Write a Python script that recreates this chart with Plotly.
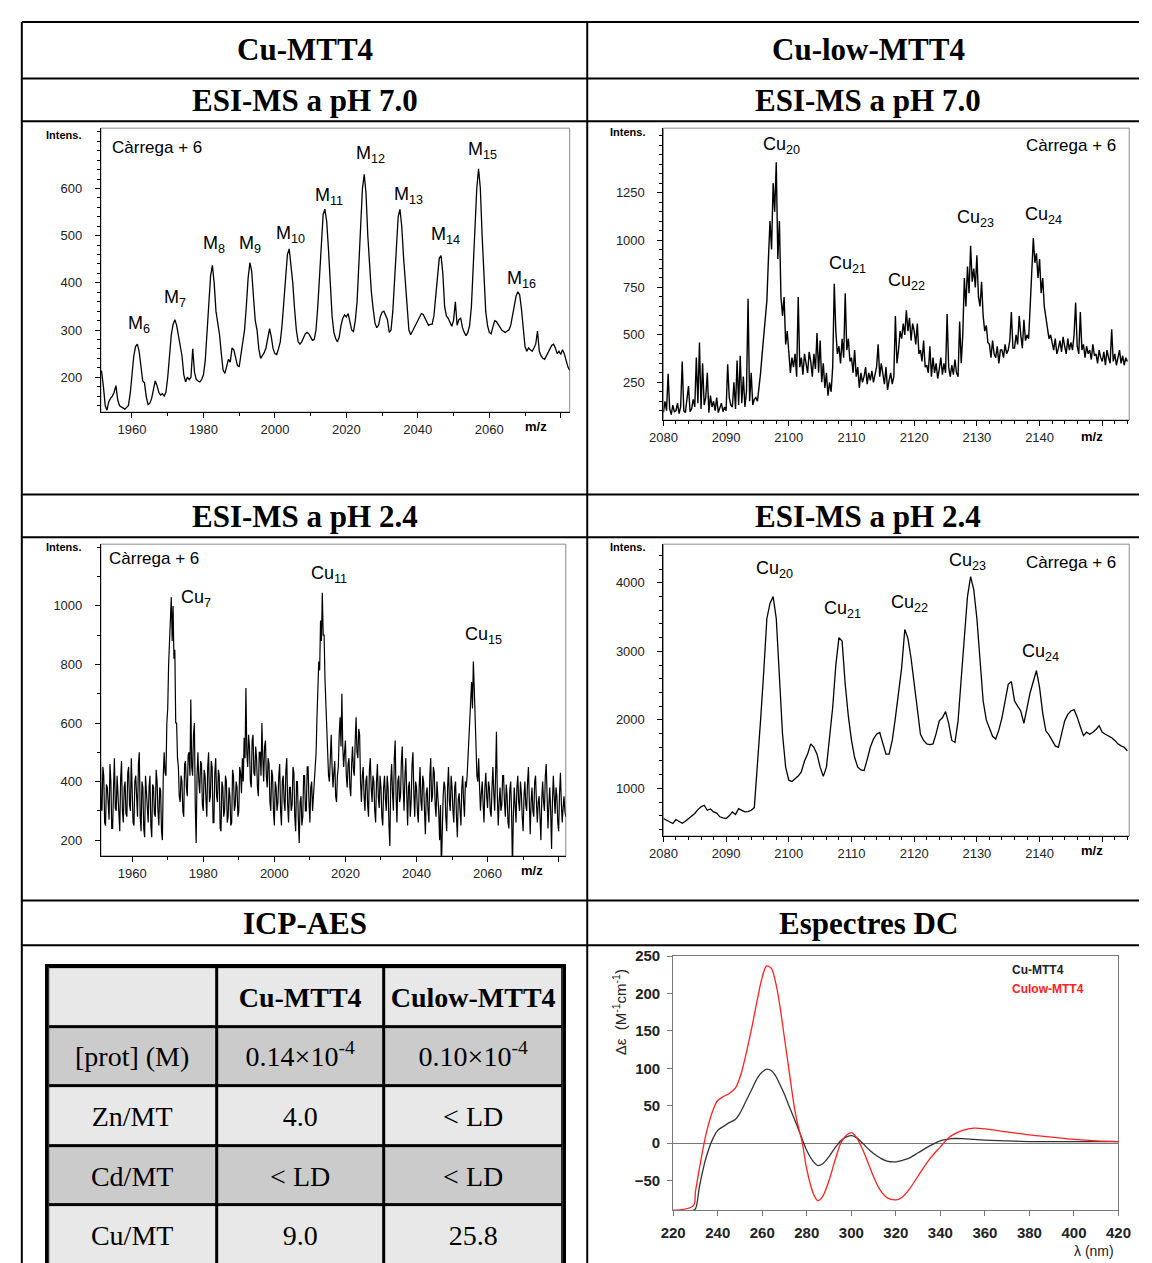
import plotly.graph_objects as go

W, H = 1152, 1263
def PX(x):
    return x / W
def PY(y):
    return 1 - y / H

SANS = "Liberation Sans"
SERIF = "Liberation Serif"

# ---------------- DATA ----------------
# Panel A: Cu-MTT4, ESI-MS pH 7.0 (m/z grid from 1951, step 0.5)
mz_a_start, mz_a_step = 1951.0, 0.5
int_a = [
    215,212,180,140,130,148,155,160,168,182,152,140,137,134,132,136,140,165,205,245,
    265,270,255,225,192,188,158,142,145,155,175,192,182,168,162,165,160,168,200,250,
    290,312,322,310,290,270,245,205,190,200,195,200,260,210,195,192,190,195,205,235,
    290,360,415,437,400,340,315,290,250,215,208,225,238,232,262,258,240,225,222,245,
    270,300,350,410,443,425,370,320,300,260,240,245,252,262,285,303,285,260,250,248,
    260,275,310,360,420,460,472,440,400,345,300,275,270,275,285,292,295,292,285,278,
    280,300,350,420,490,545,556,530,470,390,330,295,282,275,285,310,325,332,328,335,
    318,300,297,320,360,440,530,600,630,590,500,430,380,345,315,305,310,328,338,340,
    330,322,295,300,340,410,480,540,556,520,455,400,340,300,290,298,305,312,320,330,
    335,333,325,315,310,312,312,330,370,420,452,458,420,350,330,325,315,308,320,360,
    310,322,325,305,295,288,295,310,350,430,520,600,642,600,500,400,340,310,295,292,
    305,320,318,312,305,300,297,295,298,300,310,330,355,372,381,375,345,300,265,255,
    262,258,255,262,270,298,255,245,240,238,245,255,262,268,270,262,250,255,248,258,
    250,235,222,215,
]
lab_a = ["M<sub>6</sub>", "M<sub>7</sub>", "M<sub>8</sub>", "M<sub>9</sub>", "M<sub>10</sub>",
         "M<sub>11</sub>", "M<sub>12</sub>", "M<sub>13</sub>", "M<sub>14</sub>", "M<sub>15</sub>",
         "M<sub>16</sub>"]
lab_a_x = [1962.0, 1972.1, 1983.0, 1993.1, 2004.3, 2015.2, 2026.7, 2037.4, 2047.7, 2058.1, 2069.1]
lab_a_y = [312, 366, 482, 482, 503, 583, 672, 585, 501, 680, 408]

# Panel B: Cu-low-MTT4, ESI-MS pH 7.0 (m/z grid from 2080, step 0.25)
mz_b_start, mz_b_step = 2080.0, 0.25
int_b = [
    90,150,100,295,110,80,130,95,100,140,85,120,360,100,90,150,230,95,110,160,
    120,380,140,460,110,350,130,170,300,90,180,120,150,100,170,90,110,140,95,120,
    100,345,170,130,120,250,110,365,130,390,140,280,120,200,690,150,300,130,160,170,
    150,220,300,400,490,580,680,900,1100,950,1300,1150,1410,900,1100,700,600,700,450,520,
    420,300,380,330,400,280,700,330,380,290,400,340,300,410,360,280,400,320,510,300,
    470,250,350,220,300,180,250,200,330,770,520,400,440,350,480,380,720,420,480,360,
    380,300,420,280,330,220,300,250,280,330,240,300,260,310,250,290,330,450,280,350,
    300,240,330,210,260,300,240,280,600,350,420,520,480,560,500,630,520,590,470,560,
    520,450,560,400,420,360,470,330,340,300,440,280,380,300,350,270,320,380,290,350,
    300,610,330,280,340,290,370,300,280,570,350,500,800,650,860,720,970,780,850,750,
    920,700,650,780,600,520,550,460,450,380,470,400,380,440,350,420,420,380,450,400,
    420,470,620,430,430,500,450,600,500,430,580,470,500,480,650,850,1010,880,930,800,
    900,720,800,650,600,540,480,500,450,420,480,400,430,470,410,490,440,400,480,420,
    460,420,500,670,440,400,620,420,450,380,440,400,420,370,450,390,400,350,420,380,
    360,410,340,420,380,350,530,360,400,340,380,420,350,390,340,380,360,
]
lab_b = ["Cu<sub>20</sub>", "Cu<sub>21</sub>", "Cu<sub>22</sub>", "Cu<sub>23</sub>", "Cu<sub>24</sub>"]
lab_b_x = [2098.8, 2109.4, 2118.7, 2129.8, 2140.7]
lab_b_y = [1501, 873, 779, 1114, 1130]

# Panel C: Cu-MTT4, ESI-MS pH 2.4 (m/z grid from 1951, step 0.25)
mz_c_start, mz_c_step = 1951.0, 0.25
int_c = [
    530,310,300,450,420,260,250,390,380,300,270,460,400,240,240,380,480,310,300,420,
    350,250,230,410,470,300,260,380,400,290,280,430,450,320,300,480,380,260,250,400,
    420,300,280,460,500,280,230,400,380,240,210,420,350,300,260,380,420,250,210,390,
    380,290,280,440,400,300,250,380,370,230,200,420,500,430,420,600,650,800,900,980,
    1030,880,1000,820,850,600,600,480,450,350,330,420,400,300,280,460,470,380,350,490,
    500,420,680,450,420,560,600,320,190,420,500,400,360,470,460,320,300,440,420,340,
    280,450,500,330,350,470,450,260,260,430,480,350,330,440,420,240,230,400,380,280,
    300,420,400,260,280,380,350,250,260,440,420,300,320,400,380,280,300,450,430,360,
    480,400,550,480,720,500,450,560,520,400,380,540,560,430,420,520,480,380,350,500,
    500,420,600,480,400,520,540,420,380,480,460,330,300,440,420,300,250,400,380,300,
    330,420,460,300,250,400,420,330,300,440,480,320,260,380,380,300,320,450,430,280,
    230,400,400,270,190,330,350,250,280,420,420,300,300,450,450,330,260,380,400,300,
    350,420,480,500,620,700,810,780,950,880,1045,900,900,750,650,560,520,420,400,500,
    560,450,380,430,470,350,330,420,450,560,620,520,700,520,450,500,540,420,380,460,
    480,380,350,460,520,440,420,540,620,500,480,580,560,400,330,420,450,350,300,400,
    420,320,280,440,480,380,330,420,400,300,260,400,460,350,310,420,380,280,250,380,
    420,340,300,420,380,250,180,400,460,360,300,480,540,350,260,400,420,330,350,470,
    520,380,300,420,480,360,250,380,400,280,330,460,500,360,280,400,380,300,260,380,
    450,330,300,420,400,300,220,360,380,300,260,420,480,330,350,450,430,320,280,400,
    360,300,200,320,100,260,350,400,380,280,230,380,450,330,300,420,380,300,260,380,
    400,280,210,340,360,300,250,380,420,330,280,400,380,420,480,560,620,700,740,650,
    810,720,600,520,420,400,480,380,300,360,400,320,260,380,430,350,310,400,380,300,
    280,380,450,360,300,420,570,350,250,330,380,300,320,420,420,330,280,390,350,260,
    240,370,400,300,100,280,380,320,260,380,420,330,300,400,360,280,230,350,400,320,
    300,400,450,330,220,330,380,300,280,400,420,330,260,330,350,280,200,340,400,330,
    300,420,460,350,240,320,380,300,170,330,420,350,290,380,350,260,230,360,430,330,
    260,310,350,300,280,
]
lab_c = ["Cu<sub>7</sub>", "Cu<sub>11</sub>", "Cu<sub>15</sub>"]
lab_c_x = [1977.9, 2015.5, 2058.9]
lab_c_y = [1027, 1109, 898]

# Panel D: Cu-low-MTT4, ESI-MS pH 2.4 (m/z grid from 2080, step 0.5)
mz_d_start, mz_d_step = 2080.0, 0.5
int_d = [
    560,540,510,488,546,520,490,520,560,590,
    633,690,730,754,681,700,657,640,585,570,
    560,600,657,620,705,680,657,660,680,720,
    1300,2000,2700,3480,3700,3800,3480,2660,1790,1310,
    1120,1100,1140,1180,1240,1400,1500,1650,1600,1500,
    1310,1175,1310,1700,2180,2800,3200,3150,2520,2050,
    1700,1450,1310,1270,1260,1420,1600,1720,1790,1816,
    1650,1500,1500,1700,2030,2400,2760,3320,3190,2900,
    2520,2100,1790,1700,1650,1640,1650,1800,1985,2030,
    2120,1950,1700,1670,1985,2600,3240,3800,4090,3900,
    3480,2800,2275,2000,1890,1760,1720,1850,2030,2250,
    2520,2560,2280,2200,2130,1950,2180,2400,2560,2720,
    2470,2100,1840,1780,1700,1620,1600,1800,1985,2080,
    2130,2150,2040,1900,1770,1820,1790,1820,1860,1915,
    1820,1790,1770,1740,1700,1650,1620,1600,1550,
]
lab_d = ["Cu<sub>20</sub>", "Cu<sub>21</sub>", "Cu<sub>22</sub>", "Cu<sub>23</sub>", "Cu<sub>24</sub>"]
lab_d_x = [2097.7, 2108.5, 2119.2, 2128.5, 2140.2]
lab_d_y = [4188, 3609, 3696, 4319, 2986]

# CD spectra
cd_wl = [220, 229, 230, 232, 235, 238, 240, 243, 245, 248, 250, 252, 255, 258, 260, 262, 264, 266,
         268, 270, 272, 275, 278, 280, 283, 285, 287, 290, 293, 296, 300, 302, 305, 308, 310, 313,
         316, 320, 323, 326, 330, 335, 340, 343, 345, 350, 355, 360, 370, 380, 390, 400, 410, 420]
cd_cu = [-90, -90, -88, -55, -17, 7, 17, 23, 27, 32, 40, 52, 70, 88, 95, 99, 97, 90,
         78, 65, 50, 28, 5, -10, -25, -30, -28, -18, -5, 5, 10, 8, 0, -9, -14, -20,
         -24, -25, -23, -20, -13, -4, 3, 5, 6, 6, 5, 4, 3, 2, 2, 2, 2, 2]
cd_culow = [-90, -84, -65, -30, 15, 45, 57, 63, 66, 74, 88, 110, 150, 195, 222, 237, 234, 215,
            182, 140, 98, 38, 0, -35, -68, -77, -72, -50, -20, 4, 14, 9, -8, -30, -45, -63,
            -73, -76, -72, -62, -44, -22, -5, 5, 10, 17, 20, 19, 15, 11, 8, 5, 3, 2]

# ICP-AES table
tab_cols = ["", "<b>Cu-MTT4</b>", "<b>Culow-MTT4</b>"]
tab_rows = ["[prot] (M)", "Zn/MT", "Cd/MT", "Cu/MT"]
tab_cu = ["0.14×10<sup>-4</sup>", "4.0", "&lt; LD", "9.0"]
tab_culow = ["0.10×10<sup>-4</sup>", "&lt; LD", "&lt; LD", "25.8"]
tab_shade = [0, 1, 0, 1, 0]          # header, prot, Zn, Cd, Cu  (0 light, 1 dark)
tab_col_edges = [0, 173, 344, 527]
tab_row_edges = [0, 60, 120, 180, 240, 300]

# ---------------- FIGURE ----------------
fig = go.Figure()

def grid(start, step, vals):
    return [start + step * i for i in range(len(vals))]

fig.add_trace(go.Scatter(x=grid(mz_a_start, mz_a_step, int_a), y=int_a, mode="lines",
                         line=dict(color="black", width=1.3), xaxis="x", yaxis="y",
                         showlegend=False, hoverinfo="skip"))
fig.add_trace(go.Scatter(x=grid(mz_b_start, mz_b_step, int_b), y=int_b, mode="lines",
                         line=dict(color="black", width=1.4), xaxis="x2", yaxis="y2",
                         showlegend=False, hoverinfo="skip"))
fig.add_trace(go.Scatter(x=grid(mz_c_start, mz_c_step, int_c), y=int_c, mode="lines",
                         line=dict(color="black", width=1.2), xaxis="x3", yaxis="y3",
                         showlegend=False, hoverinfo="skip"))
fig.add_trace(go.Scatter(x=grid(mz_d_start, mz_d_step, int_d), y=int_d, mode="lines",
                         line=dict(color="black", width=1.3), xaxis="x4", yaxis="y4",
                         showlegend=False, hoverinfo="skip"))
fig.add_trace(go.Scatter(x=cd_wl, y=cd_cu, mode="lines", line=dict(color="#333333", width=1.3, shape="spline"),
                         xaxis="x5", yaxis="y5", name="Cu-MTT4", showlegend=False, hoverinfo="skip"))
fig.add_trace(go.Scatter(x=cd_wl, y=cd_culow, mode="lines", line=dict(color="#ff2020", width=1.3, shape="spline"),
                         xaxis="x5", yaxis="y5", name="Culow-MTT4", showlegend=False, hoverinfo="skip"))

# table as a shaded grid of cells with their texts
tab_text = [tab_cols] + [[r, a, b] for r, a, b in zip(tab_rows, tab_cu, tab_culow)]
tab_z = [[s] * 3 for s in tab_shade]
fig.add_trace(go.Heatmap(x=tab_col_edges, y=tab_row_edges, z=tab_z, text=tab_text,
                         texttemplate="%{text}", zmin=0, zmax=1,
                         colorscale=[[0, "#e8e8e8"], [1, "#cbcbcb"]], showscale=False,
                         xgap=3, ygap=3, xaxis="x6", yaxis="y6", hoverinfo="skip",
                         textfont=dict(family=SERIF, size=28, color="black")))

tickfont = dict(family=SANS, size=13, color="#222")

def ms_x(dom, rng, major, labels, minor_dtick, minor0):
    return dict(domain=[PX(dom[0]), PX(dom[1])], range=rng, showline=True, linecolor="black",
                linewidth=1, ticks="outside", ticklen=5, tickcolor="black", tickvals=major,
                ticktext=labels, minor=dict(dtick=minor_dtick, tick0=minor0, ticks="outside",
                ticklen=3, tickcolor="black"), showgrid=False, zeroline=False, tickfont=tickfont,
                fixedrange=True)

def ms_y(dom, rng, major, minor_dtick):
    return dict(domain=[PY(dom[1]), PY(dom[0])], range=rng, showline=True, linecolor="black",
                linewidth=1, ticks="outside", ticklen=5, tickcolor="black", tickvals=major,
                minor=dict(dtick=minor_dtick, tick0=0, ticks="outside", ticklen=3, tickcolor="black"),
                showgrid=False, zeroline=False, tickfont=tickfont, ticklabelstandoff=10,
                fixedrange=True)

xa_major = [1960, 1980, 2000, 2020, 2040, 2060, 2080]
xa_text = ["1960", "1980", "2000", "2020", "2040", "2060", " "]
xb_major = [2080, 2090, 2100, 2110, 2120, 2130, 2140, 2150]
xb_text = ["2080", "2090", "2100", "2110", "2120", "2130", "2140", " "]

layout = dict(
    width=W, height=H, margin=dict(l=0, r=0, t=0, b=0, pad=0),
    paper_bgcolor="white", plot_bgcolor="white",
    xaxis=dict(**ms_x((89, 569), [1951.3, 2082.5], xa_major, xa_text, 10, 1950), anchor="y"),
    yaxis=dict(**ms_y((120, 406), [126, 728], [200, 300, 400, 500, 600], 20), anchor="x"),
    xaxis2=dict(**ms_x((665, 1142), [2080, 2154.3], xb_major, xb_text, 2, 2080), anchor="y2"),
    yaxis2=dict(**ms_y((120, 414), [51, 1590], [250, 500, 750, 1000, 1250], 50), anchor="x2"),
    xaxis3=dict(**ms_x((89, 565), [1951.2, 2082], xa_major, xa_text, 10, 1950), anchor="y3"),
    yaxis3=dict(**ms_y((539, 853), [146, 1211], [200, 400, 600, 800, 1000], 100), anchor="x3"),
    xaxis4=dict(**ms_x((665, 1142), [2080, 2154.3], xb_major, xb_text, 2, 2080), anchor="y4"),
    yaxis4=dict(**ms_y((539, 833), [304, 4565], [1000, 2000, 3000, 4000], 200), anchor="x4"),
    xaxis5=dict(domain=[PX(675), PX(1131)], range=[220, 420], anchor="y5", showline=True,
                linecolor="#777", linewidth=1, mirror=True, ticks="outside", ticklen=5,
                tickcolor="#777", dtick=20, tick0=220, showgrid=False, zeroline=False,
                tickfont=dict(family=SANS, size=15, color="#222", weight="bold"),
                ticklabelstandoff=4, fixedrange=True),
    yaxis5=dict(domain=[PY(1210), PY(954)], range=[-90, 250], anchor="x5", showline=True,
                linecolor="#777", linewidth=1, mirror=True, ticks="outside", ticklen=5,
                tickcolor="#777", tickvals=[-50, 0, 50, 100, 150, 200, 250], showgrid=False,
                zeroline=True, zerolinecolor="#777", zerolinewidth=1,
                tickfont=dict(family=SANS, size=15, color="#222", weight="bold"),
                ticklabelstandoff=4, fixedrange=True),
    xaxis6=dict(domain=[PX(35), PX(562)], range=[0, 527], anchor="y6", showline=True, mirror=True,
                linecolor="black", linewidth=3, showticklabels=False, ticks="", showgrid=False,
                zeroline=False, fixedrange=True),
    yaxis6=dict(domain=[PY(1263), PY(965)], range=[298, 0], anchor="x6", showline=True, mirror=True,
                linecolor="black", linewidth=3, showticklabels=False, ticks="", showgrid=False,
                zeroline=False, fixedrange=True),
)
fig.update_layout(**layout)

shapes = []
# frames of the ESI-MS plots (grey top/right)
for xr, yr in [("x", "y"), ("x2", "y2"), ("x3", "y3"), ("x4", "y4")]:
    shapes.append(dict(type="rect", xref=f"{xr} domain", yref=f"{yr} domain", x0=0, x1=1, y0=0, y1=1,
                       line=dict(color="#8a8a8a", width=1), layer="below"))
# black background under the table cells (shows through the cell gaps)
shapes.append(dict(type="rect", xref="x6 domain", yref="y6 domain", x0=0, x1=1, y0=0, y1=1,
                   fillcolor="black", line=dict(width=0), layer="below"))
# outer layout grid
for yline in [13, 70, 113, 489, 532, 898, 943]:
    shapes.append(dict(type="line", xref="paper", yref="paper", x0=PX(8), x1=1.0,
                       y0=PY(yline), y1=PY(yline), line=dict(color="black", width=2)))
for xline in [8, 587]:
    shapes.append(dict(type="line", xref="paper", yref="paper", x0=PX(xline), x1=PX(xline),
                       y0=PY(13), y1=0, line=dict(color="black", width=2)))
fig.update_layout(shapes=shapes)

ann = []
def head(text, x, y):
    ann.append(dict(text=f"<b>{text}</b>", x=PX(x), y=PY(y), xref="paper", yref="paper",
                    showarrow=False, xanchor="center", yanchor="middle",
                    font=dict(family=SERIF, size=31, color="black")))
head("Cu-MTT4", 298, 41)
head("Cu-low-MTT4", 875, 41)
head("ESI-MS a pH 7.0", 298, 92)
head("ESI-MS a pH 7.0", 875, 92)
head("ESI-MS a pH 2.4", 298, 511)
head("ESI-MS a pH 2.4", 875, 511)
head("ICP-AES", 298, 921)
head("Espectres DC", 875, 921)

def small(text, x, y, size=11, xanchor="center"):
    ann.append(dict(text=f"<b>{text}</b>", x=PX(x), y=PY(y), xref="paper", yref="paper",
                    showarrow=False, xanchor=xanchor, yanchor="middle",
                    font=dict(family=SANS, size=size, color="black")))
for (ix, iy) in [(51, 127), (628, 124), (51, 542), (628, 542)]:
    small("Intens.", ix, iy, 11)
for (mx, my) in [(535, 421), (1104, 431), (530, 868), (1104, 848)]:
    small("m/z", mx, my, 13)

labfont = dict(family=SANS, size=18, color="black")
def labels(texts, xs, ys, xr, yr):
    for t, x, y in zip(texts, xs, ys):
        ann.append(dict(text=t, x=x, y=y, xref=xr, yref=yr, showarrow=False,
                        xanchor="center", yanchor="middle", font=labfont))
labels(lab_a, lab_a_x, lab_a_y, "x", "y")
labels(lab_b, lab_b_x, lab_b_y, "x2", "y2")
labels(lab_c, lab_c_x, lab_c_y, "x3", "y3")
labels(lab_d, lab_d_x, lab_d_y, "x4", "y4")

carrega = "Càrrega + 6"
cfont = dict(family=SANS, size=17, color="black")
ann.append(dict(text=carrega, x=1953.9, y=688, xref="x", yref="y", showarrow=False,
                xanchor="left", yanchor="middle", font=cfont))
ann.append(dict(text=carrega, x=2152.5, y=1496, xref="x2", yref="y2", showarrow=False,
                xanchor="right", yanchor="middle", font=cfont))
ann.append(dict(text=carrega, x=1952.9, y=1163, xref="x3", yref="y3", showarrow=False,
                xanchor="left", yanchor="middle", font=cfont))
ann.append(dict(text=carrega, x=2152.5, y=4290, xref="x4", yref="y4", showarrow=False,
                xanchor="right", yanchor="middle", font=cfont))

# CD annotations
ann.append(dict(text="Δε  (M<sup>-1</sup>cm<sup>-1</sup>)", x=PX(620), y=PY(1010), xref="paper",
                yref="paper", showarrow=False, textangle=-90, xanchor="center", yanchor="middle",
                font=dict(family=SANS, size=15, color="#222")))
ann.append(dict(text="λ (nm)", x=PX(1106), y=PY(1251), xref="paper", yref="paper", showarrow=False,
                xanchor="center", yanchor="middle", font=dict(family=SANS, size=14, color="#222")))
ann.append(dict(text="<b>Cu-MTT4</b>", x=PX(1020), y=PY(968), xref="paper", yref="paper",
                showarrow=False, xanchor="left", yanchor="middle",
                font=dict(family=SANS, size=12, color="#222")))
ann.append(dict(text="<b>Culow-MTT4</b>", x=PX(1020), y=PY(987), xref="paper", yref="paper",
                showarrow=False, xanchor="left", yanchor="middle",
                font=dict(family=SANS, size=12, color="#ff2020")))

fig.update_layout(annotations=ann)
fig.write_html("out.html")
